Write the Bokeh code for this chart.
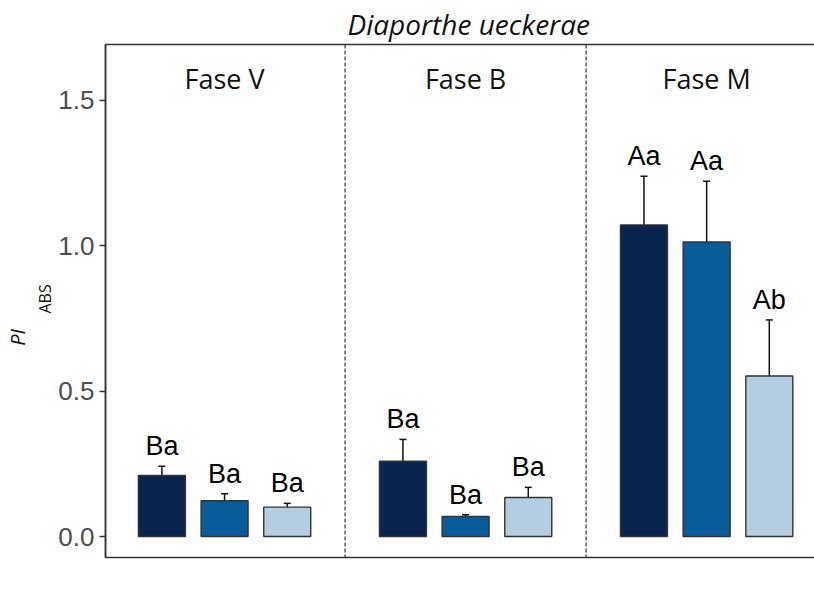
from bokeh.plotting import figure
from bokeh.models import (ColumnDataSource, Range1d, FixedTicker, LinearAxis, Span,
                          Legend, LegendItem, Whisker, TeeHead)
from bokeh.core.properties import value
from bokeh.embed import file_html
from bokeh.resources import INLINE

# ---------------- data ----------------
title_text = "Diaporthe ueckerae"
phases = ["Fase V", "Fase B", "Fase M"]
treatments = ["Não inoculado", "Aérea", "Radicular"]
legend_title = "Tipos de inoculação"
y_label_main = "PI"
y_label_sub = "ABS"

# mean PI_ABS per phase, in treatment order
mean_fase_v = [0.210, 0.123, 0.101]
mean_fase_b = [0.259, 0.069, 0.134]
mean_fase_m = [1.072, 1.013, 0.552]
# error bar limits
upper_fase_v = [0.242, 0.147, 0.114]
lower_fase_v = [0.170, 0.099, 0.086]
upper_fase_b = [0.334, 0.075, 0.169]
lower_fase_b = [0.172, 0.062, 0.093]
upper_fase_m = [1.239, 1.222, 0.745]
lower_fase_m = [0.903, 0.807, 0.359]
# significance letters
letters_fase_v = ["Ba", "Ba", "Ba"]
letters_fase_b = ["Ba", "Ba", "Ba"]
letters_fase_m = ["Aa", "Aa", "Ab"]

y_ticks = [0.0, 0.5, 1.0, 1.5]
y_tick_labels = ["0.0", "0.5", "1.0", "1.5"]

# ---------------- style ----------------
colors = ["#0A2450", "#0A5C99", "#B3CDE1"]
dodge = 0.26
bar_width = 0.195
letter_offset = 0.069
phase_label_y = 1.577
SANS = "Liberation Sans"
OPEN = "Open Sans"
INK = "#333333"
NBSP = "\u00a0"

means = [mean_fase_v, mean_fase_b, mean_fase_m]
uppers = [upper_fase_v, upper_fase_b, upper_fase_m]
lowers = [lower_fase_v, lower_fase_b, lower_fase_m]
letters = [letters_fase_v, letters_fase_b, letters_fase_m]

p = figure(width=814, height=601, frame_width=712, frame_height=513,
           output_backend="svg", toolbar_location=None, x_axis_location=None,
           x_range=Range1d(0.506, 3.46), y_range=Range1d(-0.0722, 1.6925),
           min_border_left=104, min_border_right=0, min_border_top=44, min_border_bottom=44,
           background_fill_color="white", border_fill_color="white")
p.outline_line_color = INK
p.outline_line_width = 1.5
p.xgrid.visible = False
p.ygrid.visible = False

# title
p.title.text = title_text
p.title.text_font = OPEN
p.title.text_font_style = "italic"
p.title.text_font_size = "28px"
p.title.text_color = "#111111"
p.title.align = "left"
p.title.offset = 242
p.title.standoff = 3

# y axis
ya = p.yaxis[0]
ya.ticker = FixedTicker(ticks=y_ticks)
ya.major_label_overrides = {t: l for t, l in zip(y_ticks, y_tick_labels)}
ya.major_label_text_font = SANS
ya.major_label_text_font_size = "26px"
ya.major_label_text_color = "#4D4D4D"
ya.major_tick_out = 6
ya.major_tick_in = 0
ya.minor_tick_out = 0
ya.minor_tick_in = 0
ya.minor_tick_line_color = None
ya.major_tick_line_color = INK
ya.major_tick_line_width = 1.5
ya.axis_line_color = INK
ya.axis_line_width = 1.5
ya.major_label_standoff = 5


# y axis title: PI with subscript ABS, as labels of two tick-less left axes
def label_axis(text, size, style):
    return LinearAxis(ticker=FixedTicker(ticks=[]), axis_line_color=None,
                      major_tick_line_color=None, minor_tick_line_color=None,
                      major_tick_out=0, major_tick_in=0, minor_tick_out=0, minor_tick_in=0,
                      major_label_standoff=0,
                      axis_label=text, axis_label_standoff=0,
                      axis_label_text_font=OPEN, axis_label_text_font_size=size,
                      axis_label_text_font_style=style, axis_label_text_color="#111111")


p.add_layout(label_axis(NBSP + y_label_sub, "16px", "normal"), "left")
p.add_layout(label_axis(y_label_main + NBSP * 14, "20px", "italic"), "left")

# phase separators
for g in range(1, len(phases)):
    p.add_layout(Span(location=g + 0.5, dimension="height", line_color=INK,
                      line_width=1.2, line_dash="4 2"))

# invisible renderer that carries the legend title as first legend entry
title_r = p.rect(x=[], y=[], width=0.1, height=0.1, fill_alpha=0, line_alpha=0)
legend_items = [LegendItem(label=legend_title + "\u2002", renderers=[title_r])]

for j, trt in enumerate(treatments):
    xs = [g + 1 + (j - 1) * dodge for g in range(len(phases))]
    src = ColumnDataSource(dict(
        x=xs,
        top=[means[g][j] for g in range(len(phases))],
        upper=[uppers[g][j] for g in range(len(phases))],
        lower=[lowers[g][j] for g in range(len(phases))],
        lab=[letters[g][j] for g in range(len(phases))],
        laby=[uppers[g][j] + letter_offset for g in range(len(phases))],
    ))
    r = p.vbar(x="x", top="top", bottom=0, width=bar_width, source=src,
               fill_color=colors[j], line_color=None)
    p.vbar(x="x", top="top", bottom=0, width=bar_width, source=src,
           fill_color=None, line_color=INK, line_width=1.4)
    p.add_layout(Whisker(base="x", upper="upper", lower="lower", source=src,
                         line_color="#111111", line_width=1.5,
                         upper_head=TeeHead(size=7, line_color="#111111", line_width=1.5),
                         lower_head=TeeHead(size=7, line_color="#111111", line_width=1.5)))
    p.text(x="x", y="laby", text="lab", source=src, text_align="center",
           text_baseline="alphabetic", text_font=value(SANS), text_font_size="27px",
           text_color="#000000")
    legend_items.append(LegendItem(label=trt, renderers=[r]))

# phase labels
p.text(x=[g + 1 for g in range(len(phases))], y=[phase_label_y] * len(phases), text=phases,
       text_align="center", text_baseline="alphabetic", text_font=value(OPEN),
       text_font_size="27px", text_color="#111111")

legend = Legend(items=legend_items, orientation="horizontal", location=(-32.3, 21),
                glyph_width=44, glyph_height=44, label_standoff=5, spacing=10,
                padding=0, margin=0, border_line_color=None, background_fill_alpha=0,
                title_standoff=0, title_text_font_size="0px",
                label_text_font=SANS, label_text_font_size="22.5px",
                label_text_color="#000000")
p.add_layout(legend, "below")

open("out.html", "w").write(file_html(p, INLINE))
